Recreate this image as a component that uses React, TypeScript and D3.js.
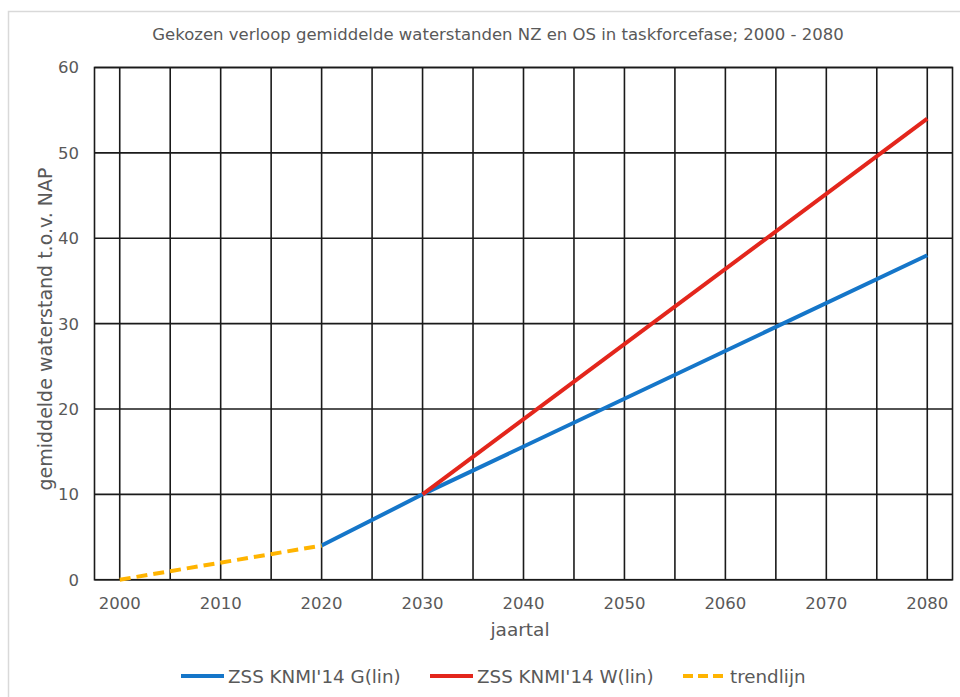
import React, { useEffect, useRef } from 'react';
import * as d3 from 'd3';

const title = 'Gekozen verloop gemiddelde waterstanden NZ en OS in taskforcefase; 2000 - 2080';
const xTicks = [2000, 2010, 2020, 2030, 2040, 2050, 2060, 2070, 2080];
const gridYears = d3.range(2000, 2081, 5);
const yTicks = [0, 10, 20, 30, 40, 50, 60];

const blueYears = [2020, 2030, 2080];
const blueValues = [4, 10, 38];
const redYears = [2030, 2080];
const redValues = [10, 54];
const trendYears = [2000, 2020];
const trendValues = [0, 4];

const seriesList = [
  { name: "ZSS KNMI'14 G(lin)", years: blueYears, values: blueValues, color: '#1576c9', dash: null },
  { name: "ZSS KNMI'14 W(lin)", years: redYears, values: redValues, color: '#e3261c', dash: null },
  { name: 'trendlijn', years: trendYears, values: trendValues, color: '#ffb400', dash: '11,6' },
];

const App = () => {
  const ref = useRef<SVGSVGElement>(null);

  useEffect(() => {
    const svg = d3.select(ref.current);
    svg.selectAll('*').remove();
    const width = 960;
    const height = 697;
    const marginLeft = 94.5;
    const marginRight = 7.5;
    const marginTop = 67.5;
    const bottom = 579.7;
    const textColor = '#595959';
    const font = 'DejaVu Sans, Verdana, sans-serif';

    const x = d3.scaleLinear().domain([1997.5, 2082.5]).range([marginLeft, width - marginRight]);
    const y = d3.scaleLinear().domain([0, 60]).range([bottom, marginTop]);

    // page frame
    svg.append('path')
      .attr('d', `M8.5,${height}V11.5H${width}`)
      .attr('fill', 'none')
      .attr('stroke', '#d9d9d9')
      .attr('stroke-width', 1.5);

    svg.append('text')
      .attr('x', 498)
      .attr('y', 40)
      .attr('text-anchor', 'middle')
      .style('font-family', font)
      .style('font-size', '16.5px')
      .style('fill', textColor)
      .text(title);

    const grid = svg.append('g').attr('stroke', '#1a1a1a').attr('stroke-width', 1.6);
    grid.selectAll('line.v')
      .data(gridYears)
      .join('line')
      .attr('class', 'v')
      .attr('x1', d => x(d)).attr('x2', d => x(d))
      .attr('y1', y(60)).attr('y2', y(0));
    grid.selectAll('line.h')
      .data(yTicks)
      .join('line')
      .attr('class', 'h')
      .attr('x1', x.range()[0]).attr('x2', x.range()[1])
      .attr('y1', d => y(d)).attr('y2', d => y(d));
    grid.append('rect')
      .attr('x', x.range()[0]).attr('y', y(60))
      .attr('width', x.range()[1] - x.range()[0])
      .attr('height', y(0) - y(60))
      .attr('fill', 'none');

    svg.append('g')
      .selectAll('text')
      .data(yTicks)
      .join('text')
      .attr('x', 79)
      .attr('y', d => y(d))
      .attr('dy', '0.36em')
      .attr('text-anchor', 'end')
      .style('font-family', font)
      .style('font-size', '16.5px')
      .style('fill', textColor)
      .text(d => d);

    svg.append('g')
      .selectAll('text')
      .data(xTicks)
      .join('text')
      .attr('x', d => x(d))
      .attr('y', 609)
      .attr('text-anchor', 'middle')
      .style('font-family', font)
      .style('font-size', '16.5px')
      .style('fill', textColor)
      .text(d => d);

    svg.append('text')
      .attr('x', 520)
      .attr('y', 636)
      .attr('text-anchor', 'middle')
      .style('font-family', font)
      .style('font-size', '18.5px')
      .style('fill', textColor)
      .text('jaartal');

    svg.append('text')
      .attr('transform', `translate(52,329) rotate(-90)`)
      .attr('text-anchor', 'middle')
      .style('font-family', font)
      .style('font-size', '19px')
      .style('fill', textColor)
      .text('gemiddelde waterstand t.o.v. NAP');

    const line = d3.line<[number, number]>()
      .x(d => x(d[0]))
      .y(d => y(d[1]));

    seriesList.forEach(s => {
      const pts = s.years.map((yr, i) => [yr, s.values[i]] as [number, number]);
      svg.append('path')
        .datum(pts)
        .attr('d', line)
        .attr('fill', 'none')
        .attr('stroke', s.color)
        .attr('stroke-width', 4)
        .attr('stroke-dasharray', s.dash)
        .attr('stroke-linejoin', 'round');
    });

    const legendX = [181, 430, 683];
    const legend = svg.append('g');
    seriesList.forEach((s, i) => {
      legend.append('line')
        .attr('x1', legendX[i]).attr('x2', legendX[i] + 43)
        .attr('y1', 676).attr('y2', 676)
        .attr('stroke', s.color)
        .attr('stroke-width', 4)
        .attr('stroke-dasharray', s.dash ? '10,5' : null);
      legend.append('text')
        .attr('x', legendX[i] + 47)
        .attr('y', 676)
        .attr('dy', '0.36em')
        .style('font-family', font)
        .style('font-size', '18.3px')
        .style('fill', textColor)
        .text(s.name);
    });
  }, []);

  return (
    <svg
      ref={ref}
      width={960}
      height={697}
      style={{ position: 'absolute', left: 0, top: 0, background: '#fff' }}
    />
  );
};

export default App;
